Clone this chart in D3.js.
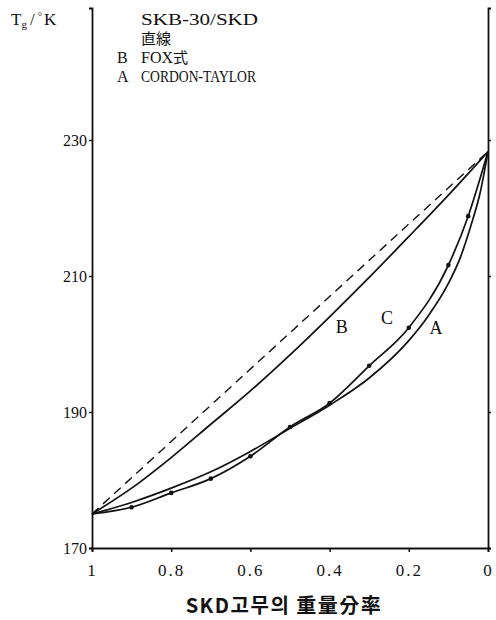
<!DOCTYPE html>
<html>
<head>
<meta charset="utf-8">
<script src="https://cdn.jsdelivr.net/npm/d3@7"></script>
<style>
  html, body { margin: 0; padding: 0; background: #fff; }
  svg { display: block; }
  .serif { font-family: "Liberation Serif", "DejaVu Serif", serif; fill: #111; }
  .cjk { font-family: "Noto Sans CJK JP", "Noto Sans CJK KR", sans-serif; fill: #111; }
</style>
</head>
<body>
<svg id="chart" width="496" height="620"></svg>
<script>
// Weight fraction of SKD rubber (1 = pure SKD, 0 = pure SKB-30)
const straightW = [1, 0];
const straightT = [175.0, 228.3];

// B: FOX equation
const foxW = [1, 0.9, 0.8, 0.7, 0.6, 0.5, 0.4, 0.3, 0.2, 0.1, 0];
const foxT = [175.0, 178.8, 183.3, 188.2, 193.1, 198.4, 204.0, 209.8, 215.8, 221.9, 228.3];

// A: Gordon-Taylor equation
const gtW = [1, 0.9, 0.8, 0.7, 0.6, 0.5, 0.4, 0.3, 0.2, 0.15, 0.1, 0.07, 0.04, 0.02, 0];
const gtT = [175.0, 176.7, 178.8, 181.2, 184.2, 187.6, 191.0, 195.0, 200.5, 204.2, 208.9, 212.7, 218.0, 222.2, 228.3];

// C: measured values
const measW = [1, 0.9, 0.8, 0.7, 0.6, 0.5, 0.4, 0.3, 0.2, 0.1, 0.05, 0];
const measT = [175.0, 176.0, 178.1, 180.2, 183.5, 187.8, 191.3, 196.8, 202.4, 211.6, 218.8, 228.3];

const xTicks = [1, 0.8, 0.6, 0.4, 0.2, 0];
const xTickLabels = ["1", "0.8", "0.6", "0.4", "0.2", "0"];
const yTicks = [170, 190, 210, 230];

const legendLines = [
  { key: "", text: "SKB-30/SKD" },
  { key: "", text: "直線" },
  { key: "B", text: "FOX式" },
  { key: "A", text: "CORDON-TAYLOR" }
];
const curveLabels = [
  { text: "B", w: 0.369, T: 202.6 },
  { text: "C", w: 0.255, T: 203.8 },
  { text: "A", w: 0.131, T: 202.4 }
];

const svg = d3.select("#chart");
const plotL = 92, plotR = 488, plotB = 548, plotT = 8;

const x = d3.scaleLinear().domain([1, 0]).range([plotL, plotR]);
const y = d3.scaleLinear().domain([170, 230]).range([plotB, 140]);
const yTopValue = y.invert(plotT);
const yFull = d3.scaleLinear().domain([170, yTopValue]).range([plotB, plotT]);

const zip = (ws, ts) => ws.map((w, i) => ({ w, T: ts[i] }));

// axes
const gLeft = svg.append("g").attr("transform", `translate(${plotL},0)`)
  .call(d3.axisLeft(yFull).tickValues(yTicks).tickSize(3).tickFormat(d3.format("d")));
const gRight = svg.append("g").attr("transform", `translate(${plotR},0)`)
  .call(d3.axisLeft(yFull).tickValues(yTicks).tickSize(-3).tickFormat(""));
const gBottom = svg.append("g").attr("transform", `translate(0,${plotB})`)
  .call(d3.axisBottom(x).tickValues(xTicks).tickSize(4).tickFormat((d, i) => xTickLabels[i]));

[gLeft, gRight, gBottom].forEach(g => {
  g.select(".domain").attr("stroke", "#111").attr("stroke-width", 1.8);
  g.selectAll(".tick line").attr("stroke", "#111").attr("stroke-width", 1.5);
});
gLeft.selectAll(".tick text")
  .attr("class", "serif").attr("font-size", 16).attr("x", -5).attr("dy", "0.35em");
gBottom.selectAll(".tick text")
  .attr("class", "serif").attr("font-size", 17).attr("y", 16).attr("dy", "0.71em")
  .attr("letter-spacing", 2);

// curves
const line = d3.line().x(d => x(d.w)).y(d => y(d.T));
const smooth = d3.line().x(d => x(d.w)).y(d => y(d.T)).curve(d3.curveMonotoneX);

svg.append("path").datum(zip(straightW, straightT)).attr("d", line)
  .attr("fill", "none").attr("stroke", "#111").attr("stroke-width", 1.4)
  .attr("stroke-dasharray", "9,6");
svg.append("path").datum(zip(foxW, foxT)).attr("d", smooth)
  .attr("fill", "none").attr("stroke", "#111").attr("stroke-width", 1.7);
svg.append("path").datum(zip(gtW, gtT)).attr("d", smooth)
  .attr("fill", "none").attr("stroke", "#111").attr("stroke-width", 1.7);
svg.append("path").datum(zip(measW, measT)).attr("d", smooth)
  .attr("fill", "none").attr("stroke", "#111").attr("stroke-width", 1.7);

svg.selectAll("circle.pt").data(zip(measW, measT).filter(d => d.w > 0 && d.w < 1))
  .enter().append("circle").attr("class", "pt")
  .attr("cx", d => x(d.w)).attr("cy", d => y(d.T)).attr("r", 2.3).attr("fill", "#111");

// curve labels
svg.selectAll("text.cl").data(curveLabels).enter().append("text")
  .attr("class", "serif cl").attr("font-size", 18).attr("text-anchor", "middle")
  .attr("x", d => x(d.w)).attr("y", d => y(d.T)).attr("dy", "0.35em").text(d => d.text);

// legend text
legendLines.forEach((d, i) => {
  const yy = 25 + i * 19;
  if (d.key) svg.append("text").attr("class", "serif").attr("font-size", 16)
    .attr("x", 117).attr("y", yy).text(d.key);
  const m = d.text.match(/^(.*?)([\u3400-\u9fff]+)$/);
  const t = svg.append("text").attr("class", "serif").attr("font-size", 16)
    .attr("x", 141).attr("y", yy);
  if (m) {
    if (m[1]) t.append("tspan").text(m[1]);
    t.append("tspan").attr("class", "cjk").attr("font-size", 15).text(m[2]);
  } else {
    t.text(d.text);
    if (d.text === "CORDON-TAYLOR") t.attr("textLength", 115).attr("lengthAdjust", "spacingAndGlyphs");
    if (d.text === "SKB-30/SKD") t.attr("textLength", 117).attr("lengthAdjust", "spacingAndGlyphs");
  }
});

// y title: Tg/°K
const yt = svg.append("text").attr("class", "serif").attr("font-size", 17).attr("x", 11).attr("y", 25);
yt.append("tspan").text("T");
yt.append("tspan").attr("font-size", 11).attr("dy", 3).text("g");
yt.append("tspan").attr("dy", -3).attr("dx", 3).text("/");
yt.append("tspan").attr("font-size", 11).attr("dy", -5).attr("dx", 3).text("°");
yt.append("tspan").attr("dy", 5).attr("dx", 2).text("K");

// x title
svg.append("text").attr("font-family", "'Noto Sans CJK KR', sans-serif").attr("font-weight", "bold")
  .attr("font-size", 20).attr("fill", "#111").attr("text-anchor", "middle")
  .attr("letter-spacing", 1.5).attr("x", 284).attr("y", 613).text("SKD고무의 重量分率");
</script>
</body>
</html>
